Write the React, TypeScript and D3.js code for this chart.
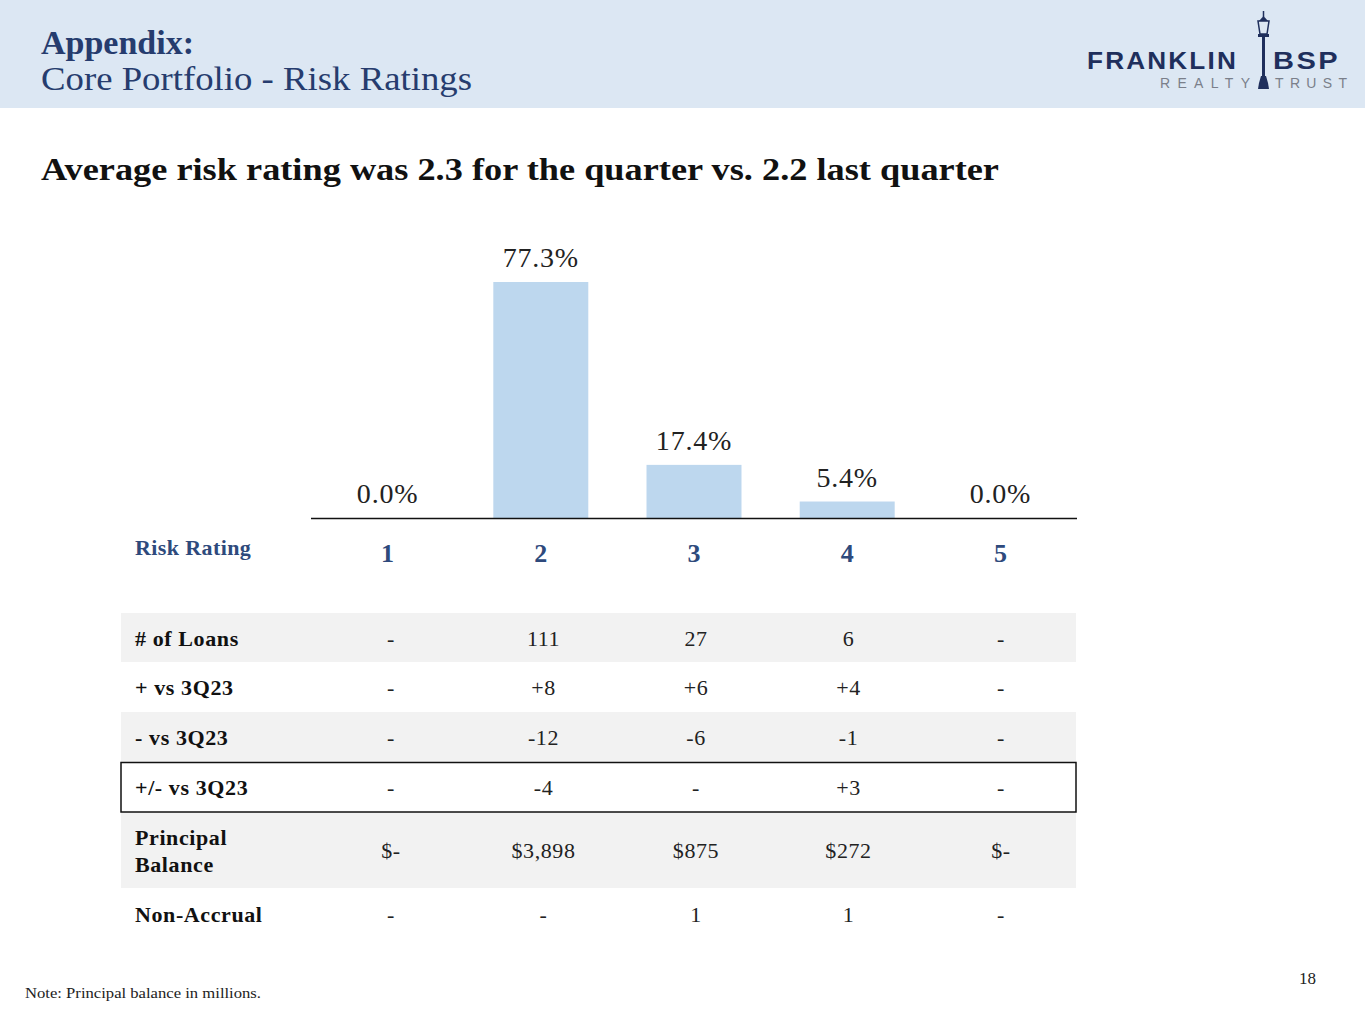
import React from "react";
import * as d3 from "d3";

const ratings = ["1", "2", "3", "4", "5"];
const sharePct = [0.0, 77.3, 17.4, 5.4, 0.0];
const rowLabels = ["# of Loans", "+ vs 3Q23", "- vs 3Q23", "+/- vs 3Q23", "Principal|Balance", "Non-Accrual"];
const loans = ["-", "111", "27", "6", "-"];
const plusVs = ["-", "+8", "+6", "+4", "-"];
const minusVs = ["-", "-12", "-6", "-1", "-"];
const netVs = ["-", "-4", "-", "+3", "-"];
const principal = ["$-", "$3,898", "$875", "$272", "$-"];
const nonAccrual = ["-", "-", "1", "1", "-"];

const W = 1365;
const H = 1024;
const NAVY = "#263c6e";
const LABEL_BLUE = "#2e4a7c";
const serif = "'Liberation Serif', 'DejaVu Serif', serif";
const sans = "'Liberation Sans', 'DejaVu Sans', sans-serif";

export default function App() {
  const x = d3.scaleBand<string>().domain(ratings).range([311, 1077]).paddingInner(0.38).paddingOuter(0.19);
  const y = d3.scaleLinear().domain([0, 77.3]).range([518, 282]);
  const xt = d3.scalePoint<string>().domain(ratings).range([391, 1001]);

  const rows = [loans, plusVs, minusVs, netVs, principal, nonAccrual];
  const rowTops = [613, 662, 712, 762, 812, 888];
  const rowBottoms = [662, 712, 762, 812, 888, 940];
  const rowFill = ["#f2f2f2", "#ffffff", "#f2f2f2", "#ffffff", "#f2f2f2", "#ffffff"];

  return (
    <svg width={W} height={H} style={{ position: "absolute", left: 0, top: 0, background: "#fff" }}>
      {/* header */}
      <rect x={0} y={0} width={W} height={108} fill="#dce7f3" />
      <text x={41} y={54} fontFamily={serif} fontWeight="bold" fontSize={34} fill={NAVY}>Appendix:</text>
      <text x={41} y={90} fontFamily={serif} fontSize={34} fill={NAVY} textLength={431} lengthAdjust="spacingAndGlyphs">Core Portfolio - Risk Ratings</text>

      {/* logo */}
      <g>
        <text x={1087} y={69} fontFamily={sans} fontWeight="bold" fontSize={24} fill="#1f2f5c" textLength={151} lengthAdjust="spacingAndGlyphs" letterSpacing={2}>FRANKLIN</text>
        <text x={1273} y={69} fontFamily={sans} fontWeight="bold" fontSize={24} fill="#1f2f5c" textLength={67} lengthAdjust="spacingAndGlyphs" letterSpacing={2}>BSP</text>
        <text x={1160} y={88} fontFamily={sans} fontSize={14} fill="#7a7f8a" textLength={90} lengthAdjust="spacing">REALTY</text>
        <text x={1275} y={88} fontFamily={sans} fontSize={14} fill="#7a7f8a" textLength={72} lengthAdjust="spacing">TRUST</text>
        <rect x={1262} y={36} width={3} height={44} fill="#1f2f5c" />
        <path d="M1258,21 L1269,21 L1267,34 L1260,34 Z" fill="none" stroke="#1f2f5c" strokeWidth={1.5} />
        <path d="M1259,21 L1263.5,16 L1268,21 Z" fill="#1f2f5c" />
        <line x1={1263.5} y1={11} x2={1263.5} y2={17} stroke="#1f2f5c" strokeWidth={1.5} />
        <rect x={1258} y={34} width={11} height={3} fill="#1f2f5c" />
        <path d="M1261,76 L1266,76 L1268,83 L1269,89 L1258,89 L1259,83 Z" fill="#1f2f5c" />
      </g>

      {/* subtitle */}
      <text x={41} y={180} fontFamily={serif} fontWeight="bold" fontSize={31} fill="#111" textLength={958} lengthAdjust="spacingAndGlyphs">
        Average risk rating was 2.3 for the quarter vs. 2.2 last quarter
      </text>

      {/* bars */}
      {ratings.map((r, i) => (
        <g key={r}>
          {sharePct[i] > 0 && (
            <rect x={x(r)} y={y(sharePct[i])} width={x.bandwidth()} height={y(0) - y(sharePct[i])} fill="#bdd7ee" />
          )}
          <text x={(x(r) as number) + x.bandwidth() / 2} y={y(sharePct[i]) - 15} textAnchor="middle" fontFamily={serif} fontSize={28} letterSpacing={0.8} fill="#222">
            {sharePct[i].toFixed(1) + "%"}
          </text>
          <text x={(x(r) as number) + x.bandwidth() / 2} y={562} textAnchor="middle" fontFamily={serif} fontWeight="bold" fontSize={26} fill={LABEL_BLUE}>
            {r}
          </text>
        </g>
      ))}
      <line x1={311} x2={1077} y1={518.5} y2={518.5} stroke="#111" strokeWidth={1.5} />
      <text x={135} y={555} fontFamily={serif} fontWeight="bold" fontSize={22} letterSpacing={0.4} fill={LABEL_BLUE}>Risk Rating</text>

      {/* table */}
      {rows.map((vals, ri) => {
        const top = rowTops[ri];
        const bot = rowBottoms[ri];
        const mid = (top + bot) / 2;
        const lines = rowLabels[ri].split("|");
        return (
          <g key={ri}>
            <rect x={121} y={top} width={955} height={bot - top} fill={rowFill[ri]} />
            {lines.length === 1 ? (
              <text x={135} y={mid + 8} fontFamily={serif} fontWeight="bold" fontSize={22} letterSpacing={0.6} fill="#111">{lines[0]}</text>
            ) : (
              lines.map((l, li) => (
                <text key={li} x={135} y={mid - 5 + li * 27} fontFamily={serif} fontWeight="bold" fontSize={22} letterSpacing={0.6} fill="#111">{l}</text>
              ))
            )}
            {vals.map((v, ci) => (
              <text key={ci} x={xt(ratings[ci])} y={mid + 8} textAnchor="middle" fontFamily={serif} fontSize={22} letterSpacing={0.6} fill="#222">{v}</text>
            ))}
          </g>
        );
      })}
      <rect x={121} y={762.5} width={955} height={49.5} fill="none" stroke="#111" strokeWidth={1.5} />

      {/* footer */}
      <text x={25} y={998} fontFamily={serif} fontSize={15} fill="#222" textLength={236} lengthAdjust="spacingAndGlyphs">Note: Principal balance in millions.</text>
      <text x={1316} y={984} textAnchor="end" fontFamily={serif} fontSize={17} fill="#222">18</text>
    </svg>
  );
}
